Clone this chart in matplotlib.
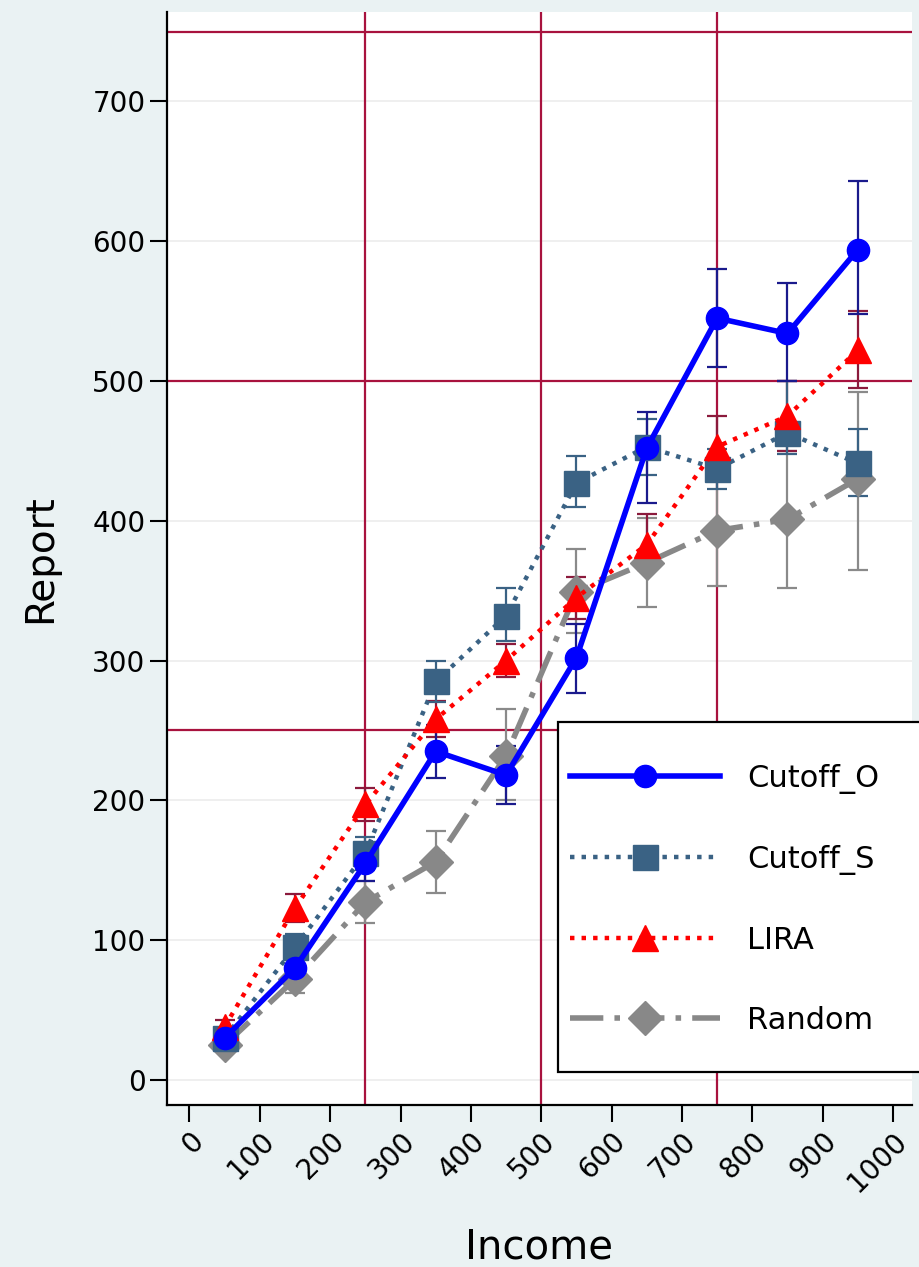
import matplotlib.pyplot as plt
from matplotlib.patches import Rectangle
import numpy as np

# Data
income = [50, 150, 250, 350, 450, 550, 650, 750, 850, 950]

cutoff_o = [30, 80, 155, 235, 218, 302, 452, 545, 534, 594]
cutoff_o_lo = [25, 70, 142, 216, 197, 277, 413, 510, 500, 548]
cutoff_o_hi = [35, 90, 168, 254, 239, 326, 478, 580, 570, 643]

cutoff_s = [30, 95, 162, 285, 332, 427, 453, 437, 463, 441]
cutoff_s_lo = [26, 86, 150, 270, 314, 410, 433, 423, 448, 418]
cutoff_s_hi = [34, 104, 174, 300, 352, 446, 473, 451, 500, 466]

lira = [38, 123, 197, 258, 300, 345, 383, 453, 475, 522]
lira_lo = [33, 113, 185, 245, 288, 330, 365, 430, 450, 495]
lira_hi = [43, 133, 209, 271, 312, 360, 405, 475, 500, 550]

random_ = [25, 72, 127, 156, 232, 349, 370, 393, 401, 430]
random_lo = [21, 62, 112, 134, 200, 320, 338, 353, 352, 365]
random_hi = [29, 82, 142, 178, 265, 380, 402, 433, 450, 492]

bg = '#EAF2F3'
red_grid = '#A8123E'

plt.rcParams['font.family'] = ['DejaVu Sans']

fig = plt.figure(figsize=(9.19, 12.67), dpi=100, facecolor=bg)
ax = fig.add_axes([0.1817, 0.1279, 0.8107, 0.8626])
ax.set_facecolor('white')

# faint horizontal grid
for v in range(0, 800, 100):
    ax.axhline(v, color='#ECECEC', lw=1.2, zorder=0)

# red reference lines
for v in [250, 500, 750]:
    ax.axhline(v, color=red_grid, lw=1.6, zorder=1)
    ax.axvline(v, color=red_grid, lw=1.6, zorder=1)

def errs(y, lo, hi):
    y = np.array(y); return [y - np.array(lo), np.array(hi) - y]

# error bars
ax.errorbar(income, random_, yerr=errs(random_, random_lo, random_hi), fmt='none',
            ecolor='#8A8A8A', elinewidth=1.6, capsize=7, capthick=1.6, zorder=2)
ax.errorbar(income, lira, yerr=errs(lira, lira_lo, lira_hi), fmt='none',
            ecolor='#8B1A3C', elinewidth=1.6, capsize=7, capthick=1.6, zorder=2)
ax.errorbar(income, cutoff_s, yerr=errs(cutoff_s, cutoff_s_lo, cutoff_s_hi), fmt='none',
            ecolor='#3A6284', elinewidth=1.6, capsize=7, capthick=1.6, zorder=2)
ax.errorbar(income, cutoff_o, yerr=errs(cutoff_o, cutoff_o_lo, cutoff_o_hi), fmt='none',
            ecolor='#1A1A8C', elinewidth=1.6, capsize=7, capthick=1.6, zorder=2)

# lines
ax.plot(income, cutoff_o, color='#0000FF', lw=4, marker='o', ms=16,
        label='Cutoff_O', zorder=6)
ax.plot(income, cutoff_s, color='#3A6284', lw=3.2, ls=(0, (1, 1.6)), marker='s', ms=18,
        label='Cutoff_S', zorder=4)
ax.plot(income, lira, color='#FF0000', lw=3.2, ls=(0, (1, 1.6)), marker='^', ms=19,
        label='LIRA', zorder=5)
ax.plot(income, random_, color='#888888', lw=4, ls=(0, (6, 2, 1, 2)), marker='D', ms=17,
        label='Random', zorder=3)

ax.set_xlim(-32, 1027)
ax.set_ylim(-18, 764)
ax.set_xticks(range(0, 1001, 100))
ax.set_yticks(range(0, 701, 100))
ax.tick_params(axis='both', labelsize=20, length=12, width=1.5, color='black')
plt.setp(ax.get_xticklabels(), rotation=45, ha='right', rotation_mode='anchor')
ax.tick_params(axis='x', pad=4)

for side in ['top', 'right']:
    ax.spines[side].set_visible(False)
for side in ['left', 'bottom']:
    ax.spines[side].set_linewidth(1.6)

ax.set_xlabel('Income', fontsize=29, labelpad=22)
ax.set_ylabel('Report', fontsize=28, labelpad=24)

# legend box
box = Rectangle((0.525, 0.030), 0.49, 0.320, transform=ax.transAxes, facecolor='white',
                edgecolor='black', lw=1.6, zorder=9, clip_on=False)
ax.add_patch(box)
leg = ax.legend(loc='upper left', bbox_to_anchor=(0.541, 0.312),
                fontsize=22, handlelength=4.9, handletextpad=0.9, labelspacing=1.67,
                borderpad=0, frameon=False, borderaxespad=0)
leg.set_zorder(10)

fig.savefig('out.png', dpi=100, facecolor=bg)
